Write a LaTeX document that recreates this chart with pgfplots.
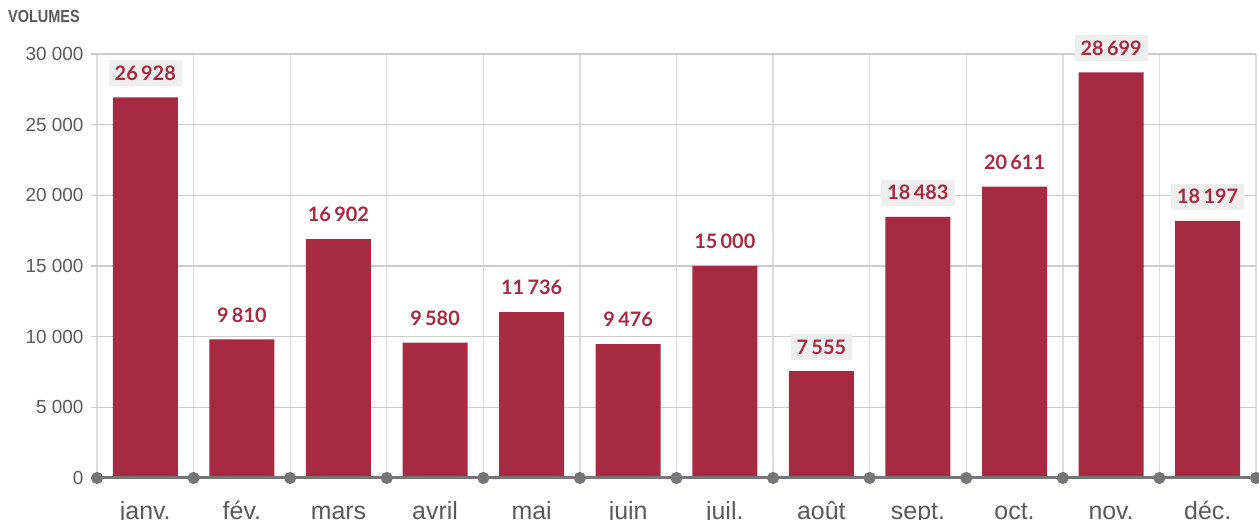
\documentclass[border=0pt]{standalone}
\usepackage{pgfplots}
\pgfplotsset{compat=1.18}
\usepackage{fontspec}
\setmainfont{Liberation Sans}
\newfontfamily\lato{Lato}
\definecolor{barred}{HTML}{A62A42}
\definecolor{axgray}{HTML}{76767A}
\definecolor{txtgray}{HTML}{5A5A5A}
\definecolor{gridh}{HTML}{CCCCCC}
\definecolor{gridv}{HTML}{DDDDDD}
\definecolor{boxgray}{HTML}{EEEEEE}
\begin{document}
\begin{tikzpicture}[x=1bp,y=1bp]
\useasboundingbox (0,0) rectangle (1259,520);
\node[anchor=west, text=txtgray, inner sep=0pt, font=\bfseries\fontsize{17.5}{17.5}\selectfont] at (8,503) {\scalebox{0.83}[1]{VOLUMES}};
\begin{axis}[
  at={(97bp,42bp)}, anchor=south west,
  scale only axis, width=1159bp, height=424bp,
  xmin=0.5, xmax=12.5, ymin=0, ymax=30000,
  clip=false,
  scaled y ticks=false,
  axis line style={draw=none},
  tick pos=left,
  ytick={0,5000,10000,15000,20000,25000,30000},
  yticklabels={0,5 000,10 000,15 000,20 000,25 000,30 000},
  xtick={1,...,12},
  xticklabels={janv.,fév.,mars,avril,mai,juin,juil.,août,sept.,oct.,nov.,déc.},
  minor xtick={0.5,1.5,...,12.5},
  ymajorgrids, xminorgrids,
  major grid style={draw=gridh, line width=1.3bp},
  minor grid style={draw=gridv, line width=1.3bp},
  ytick style={draw=gridh, line width=1.3bp},
  xtick style={draw=none},
  minor tick length=0pt,
  major tick length=6bp,
  tick align=outside,
  yticklabel style={font=\fontsize{19}{19}\selectfont, text=txtgray, xshift=-4bp},
  xticklabel style={font=\fontsize{25}{25}\selectfont, text=txtgray, anchor=base, yshift=-36bp},
]
\addplot[ybar, bar width=65bp, bar shift=0pt, fill=barred, draw=none] coordinates {
(1,26928) (2,9810) (3,16902) (4,9580) (5,11736) (6,9476)
(7,15000) (8,7555) (9,18483) (10,20611) (11,28699) (12,18197)};
% labels with background box
\addplot[draw=none, mark=none, nodes near coords, point meta=explicit symbolic,
  every node near coord/.style={anchor=south, yshift=11bp, fill=boxgray,
    text=barred, font=\lato\bfseries\fontsize{20}{20}\selectfont,
    text height=14bp, text depth=0bp, inner xsep=6bp, inner ysep=6bp}]
coordinates {
(1,26928) [26\,928] (8,7555) [7\,555] (9,18483) [18\,483] (11,28699) [28\,699] (12,18197) [18\,197]};
% labels without box
\addplot[draw=none, mark=none, nodes near coords, point meta=explicit symbolic,
  every node near coord/.style={anchor=south, yshift=11bp,
    text=barred, font=\lato\bfseries\fontsize{20}{20}\selectfont,
    text height=14bp, text depth=0bp, inner xsep=6bp, inner ysep=6bp}]
coordinates {
(2,9810) [9\,810] (3,16902) [16\,902] (4,9580) [9\,580] (5,11736) [11\,736]
(6,9476) [9\,476] (7,15000) [15\,000] (10,20611) [20\,611]};
% baseline with dots
\addplot[draw=axgray, line width=3bp, mark=*, mark size=4.5bp,
  mark options={fill=axgray, draw=none}] coordinates {
(0.5,0) (1.5,0) (2.5,0) (3.5,0) (4.5,0) (5.5,0) (6.5,0) (7.5,0) (8.5,0) (9.5,0) (10.5,0) (11.5,0) (12.5,0)};
\end{axis}
\end{tikzpicture}
\end{document}
